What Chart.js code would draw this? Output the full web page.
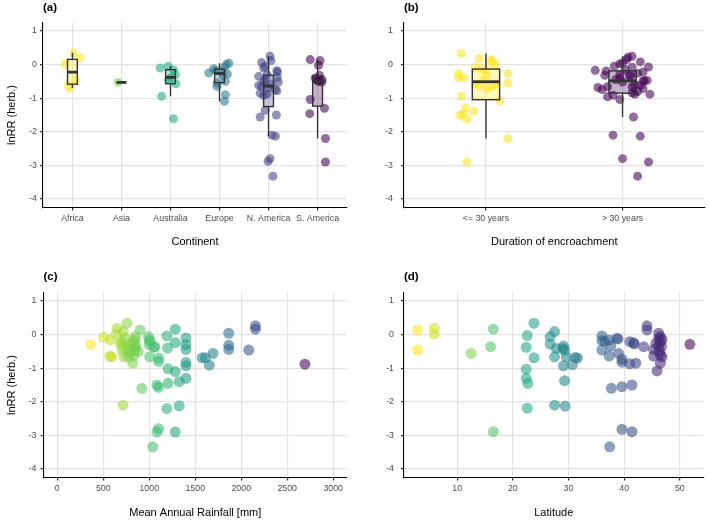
<!DOCTYPE html>
<html>
<head>
<meta charset="utf-8">
<script src="https://cdn.jsdelivr.net/npm/chart.js@4.4.0/dist/chart.umd.min.js"></script>
<style>
  body { margin: 0; background: #fff; }
  #wrap { position: relative; width: 709px; height: 521px; overflow: hidden; }
  canvas { position: absolute; }
</style>
</head>
<body>
<div id="wrap">
  <canvas id="panelA" width="354" height="260" style="left:0;top:0"></canvas>
  <canvas id="panelB" width="355" height="260" style="left:354px;top:0"></canvas>
  <canvas id="panelC" width="354" height="261" style="left:0;top:260px"></canvas>
  <canvas id="panelD" width="355" height="261" style="left:354px;top:260px"></canvas>
</div>
<script>
// ---- data ----
const continents = ['Africa', 'Asia', 'Australia', 'Europe', 'N. America', 'S. America'];
const africaLnRR = [0.35, 0.2, 0.02, -0.47, -0.62, -0.7];
const africaJitter = [0.02, 0.16, -0.15, 0.07, -0.08, -0.05];
const asiaLnRR = [-0.53];
const asiaJitter = [-0.07];
const australiaLnRR = [-0.05, -0.1, -0.15, -0.3, -0.38, -0.45, -0.57, -0.94, -1.61];
const australiaJitter = [-0.05, -0.21, 0.06, 0.1, 0.01, -0.04, 0.11, -0.18, 0.06];
const europeLnRR = [0.04, 0.0, -0.08, -0.12, -0.17, -0.22, -0.25, -0.28, -0.33, -0.5, -0.55, -0.65, -0.9, -1.09];
const europeJitter = [0.19, 0.14, 0.1, -0.12, -0.08, 0.05, -0.22, 0.16, 0.07, 0.12, -0.05, -0.05, 0.12, 0.1];
const nAmericaLnRR = [0.25, 0.12, 0.06, -0.05, -0.1, -0.18, -0.22, -0.3, -0.35, -0.38, -0.45, -0.5, -0.52, -0.58, -0.62,
  -0.66, -0.7, -0.74, -0.78, -0.85, -0.88, -0.92, -1.36, -1.5, -1.56, -2.1, -2.13, -2.8, -2.88, -3.32];
const nAmericaJitter = [0.03, 0.05, -0.14, -0.07, -0.1, 0.17, 0.18, -0.03, -0.2, 0.18, -0.07, -0.1, 0.2, 0.05, -0.2,
  -0.14, 0, 0.14, 0.17, -0.17, -0.03, -0.1, -0.07, 0.16, -0.17, 0.07, 0.14, 0.03, -0.01, 0.09];
const sAmericaLnRR = [0.15, 0.12, -0.02, -0.32, -0.4, -0.45, -0.47, -0.5, -0.52, -1.04, -1.3, -1.46, -2.2, -2.9];
const sAmericaJitter = [-0.15, 0.05, 0.02, 0.04, -0.05, 0.09, -0.01, 0.02, 0.09, -0.15, 0.14, -0.16, 0.16, 0.16];

const durations = ['<= 30 years', '> 30 years'];
const shortLnRR = [0.33, 0.18, 0.15, 0.1, 0.05, -0.02, -0.07, -0.12, -0.17, -0.27, -0.27, -0.32, -0.39, -0.39, -0.47,
  -0.55, -0.57, -0.57, -0.62, -0.64, -0.71, -0.94, -1.08, -1.29, -1.39, -1.46, -1.51, -1.61, -2.2, -2.9];
const shortJitter = [-0.18, -0.05, 0.04, 0.05, 0.04, 0.07, -0.08, -0.04, 0.0, -0.2, 0.16, 0.0, -0.2, -0.16, -0.02,
  0.16, -0.08, 0.08, -0.05, 0.05, 0.01, -0.18, 0.1, -0.15, -0.09, -0.17, -0.19, -0.14, 0.16, -0.14];
const longLnRR = [0.25, 0.22, 0.15, 0.08, 0.05, 0.02, -0.05, -0.07, -0.08, -0.15, -0.17, -0.19, -0.22, -0.26, -0.29,
  -0.32, -0.32, -0.35, -0.4, -0.45, -0.47, -0.48, -0.49, -0.52, -0.6, -0.62, -0.66, -0.66, -0.68, -0.71,
  -0.74, -0.8, -0.84, -0.88, -0.88, -0.91, -0.96, -1.04, -1.56, -2.1, -2.13, -2.8, -2.9, -3.32];
const longJitter = [0.07, 0.04, 0.03, 0.13, 0, -0.02, -0.06, 0.19, 0.07, 0.02, -0.2, -0.12, 0.15, 0.11, -0.02,
  -0.13, 0.05, 0.06, -0.02, -0.05, 0.18, 0.16, 0.15, 0, 0.09, 0.13, -0.11, 0.07, -0.18, 0.15,
  -0.15, 0.11, 0.07, 0.09, 0.2, -0.07, -0.11, -0.02, 0.08, -0.07, 0.13, 0.0, 0.19, 0.11];

const rainfallMM = [363, 501, 574, 570, 590, 650, 758, 715, 683, 701, 727, 774, 810, 847, 847, 847, 821, 901, 919, 715,
  992, 999, 1010, 1003, 1047, 1101, 1101, 1083, 1101, 1192, 1199, 1203, 1203, 1192, 1101, 1083, 1039, 1283, 1283, 1283,
  1326, 1326, 1283, 1399, 1399, 1399, 1399, 1399, 1399, 1574, 1610, 1653, 1693, 1864, 1864, 1864, 2082, 2155, 2155, 2693,
  700, 720, 760, 790, 820, 850, 780, 880, 640, 740, 830, 1000, 1062, 845];
const rainfallLnRR = [-0.3, -0.08, -0.16, -0.64, -0.66, 0.19, 0.34, 0.09, -0.26, -0.46, -0.66, -0.66, -0.5, -0.3, -0.16, -0.06, -0.85, 0.14, -1.6, -2.1,
  -0.06, -0.16, -0.2, -0.66, -0.38, -0.7, -0.8, -1.5, -1.57, -0.04, -0.4, -1.02, -1.45, -2.2, -2.8, -2.9, -3.34, 0.16, -0.24, -1.1,
  -1.4, -2.12, -2.9, -0.1, -0.3, -0.44, -0.83, -0.93, -1.3, -0.69, -0.69, -0.91, -0.56, 0.04, -0.32, -0.44, -0.46, 0.26, 0.16, -0.88,
  -0.2, -0.35, -0.42, -0.3, -0.2, -0.45, -0.55, -0.5, 0.02, -0.1, -0.62, -0.3, -0.36, -0.36];

const latitudeDeg = [2.9, 2.9, 5.9, 5.9, 12.5, 16.5, 16.0, 16.5, 23.8, 22.6, 22.4, 23.8, 22.4, 22.4, 22.7, 22.6,
  26.7, 27.5, 26.7, 27.8, 27.5, 29.1, 29.3, 29.6, 29.1, 30.7, 31.2, 31.6, 29.3, 27.5, 29.4,
  36, 36, 36, 37.3, 37.6, 37.3, 38.7, 39.0, 39.6, 39.6, 37.7, 39.6, 41.4, 39.6, 41.4, 37.4,
  41, 41.7, 41, 42.1, 43.5, 44.1, 44.1, 45.3, 45.3, 45.7, 46.2, 46.2, 46.5, 46.5, 46.2, 46.7, 46.5, 46.8, 46.5, 45.9, 51.8,
  38.9, 46.8, 46.3, 36.5, 41.8, 29.0];
const latitudeLnRR = [0.14, -0.46, 0.19, 0.02, -0.56, 0.16, -0.36, -2.89, 0.34, -0.03, -0.38, -0.69, -1.03, -1.3, -1.45, -2.19,
  -0.06, 0.09, -0.28, -0.41, -0.66, -0.34, -0.46, -0.66, -0.93, -0.9, -0.68, -0.7, -1.37, -2.1, -2.13,
  -0.04, -0.18, -0.46, -0.16, -0.34, -0.64, -0.11, -0.56, -0.73, -0.82, -1.6, -1.55, -1.5, -2.82, -2.89, -3.34,
  -0.21, -0.24, -0.87, -0.85, -0.36, 0.26, 0.14, -0.44, -0.64, -0.26, 0.04, -0.11, -0.06, -0.21, -0.34, -0.36, -0.6, -0.66, -0.85, -1.08, -0.29,
  -0.13, -0.15, -0.5, -0.2, -0.28, -0.42];

const lnrrTicks = [-4, -3, -2, -1, 0, 1];
const rainfallTicks = [0, 500, 1000, 1500, 2000, 2500, 3000];
const latitudeTicks = [10, 20, 30, 40, 50];

// ---- styling ----
const FONT = '"Liberation Sans", Arial, Helvetica, sans-serif';
const GRID = '#E3E3E3';
const VIRIDIS = ['#440154', '#482576', '#414487', '#35608D', '#2A788E', '#21908C', '#22A884', '#43BF71', '#7AD151', '#BBDF27', '#FDE725'];
const continentColors = ['#FDE725', '#7AD151', '#22A884', '#2A788E', '#414487', '#440154'];
const durationColors = ['#FDE725', '#440154'];
const BOX_WIDTH = 0.2;
const POINT_ALPHA = 0.58;

function rgba(hex, a) {
  const n = parseInt(hex.slice(1), 16);
  return `rgba(${n >> 16},${(n >> 8) & 255},${n & 255},${a})`;
}
function viridis(t) {
  t = Math.min(1, Math.max(0, t)) * (VIRIDIS.length - 1);
  const i = Math.min(Math.floor(t), VIRIDIS.length - 2);
  const f = t - i;
  const a = parseInt(VIRIDIS[i].slice(1), 16), b = parseInt(VIRIDIS[i + 1].slice(1), 16);
  const mix = s => Math.round(((a >> s) & 255) * (1 - f) + ((b >> s) & 255) * f);
  return `rgba(${mix(16)},${mix(8)},${mix(0)},${POINT_ALPHA})`;
}

function quantile(sorted, p) {
  const h = (sorted.length - 1) * p;
  const lo = Math.floor(h);
  const hi = Math.min(lo + 1, sorted.length - 1);
  return sorted[lo] + (h - lo) * (sorted[hi] - sorted[lo]);
}
function boxStats(values) {
  const s = [...values].sort((a, b) => a - b);
  const q1 = quantile(s, 0.25), med = quantile(s, 0.5), q3 = quantile(s, 0.75);
  const iqr = q3 - q1;
  const lo = s.find(v => v >= q1 - 1.5 * iqr);
  const hi = [...s].reverse().find(v => v <= q3 + 1.5 * iqr);
  return { q1, med, q3, lo, hi };
}

// boxplots drawn over the jittered points
const boxPlugin = {
  id: 'boxes',
  afterDatasetsDraw(chart, args, opts) {
    if (!opts.groups) return;
    const { ctx, scales: { x, y } } = chart;
    ctx.save();
    opts.groups.forEach((g, i) => {
      const st = boxStats(g.values);
      const cx = x.getPixelForValue(i + 1);
      const half = x.getPixelForValue(i + 1 + BOX_WIDTH / 2) - cx;
      const yq1 = y.getPixelForValue(st.q1), yq3 = y.getPixelForValue(st.q3);
      ctx.strokeStyle = '#333';
      ctx.lineWidth = 1.4;
      ctx.beginPath();
      ctx.moveTo(cx, y.getPixelForValue(st.hi)); ctx.lineTo(cx, yq3);
      ctx.moveTo(cx, yq1); ctx.lineTo(cx, y.getPixelForValue(st.lo));
      ctx.stroke();
      ctx.fillStyle = rgba(g.color, 0.3);
      ctx.fillRect(cx - half, yq3, 2 * half, yq1 - yq3);
      ctx.strokeRect(cx - half, yq3, 2 * half, yq1 - yq3);
      ctx.lineWidth = 2.8;
      ctx.beginPath();
      const ym = y.getPixelForValue(st.med);
      ctx.moveTo(cx - half, ym); ctx.lineTo(cx + half, ym);
      ctx.stroke();
    });
    ctx.restore();
  }
};

const tagPlugin = {
  id: 'panelTag',
  afterDraw(chart, args, opts) {
    const ctx = chart.ctx;
    ctx.save();
    ctx.font = 'bold 11.5px ' + FONT;
    ctx.fillStyle = '#000';
    ctx.textBaseline = 'middle';
    ctx.fillText(opts.text, chart.chartArea.left, opts.y);
    ctx.restore();
  }
};

function makeOptions(p) {
  return {
    responsive: false,
    animation: false,
    events: [],
    layout: { padding: { top: p.top, right: p.right, left: 0, bottom: 0 } },
    plugins: {
      legend: { display: false },
      tooltip: { enabled: false },
      panelTag: { text: p.tag, y: p.tagY },
      boxes: { groups: p.groups }
    },
    scales: {
      x: {
        type: 'linear',
        min: p.xMin,
        max: p.xMax,
        afterBuildTicks: s => { s.ticks = p.xTicks.map(v => ({ value: v })); },
        afterFit: s => { s.height = p.xHeight; },
        grid: { color: GRID, lineWidth: 1.2, tickColor: '#333', tickLength: 3 },
        border: { display: true, color: '#000', width: 1.1 },
        ticks: {
          color: '#4D4D4D',
          font: { family: FONT, size: 8.8 },
          padding: 3,
          maxRotation: 0,
          autoSkip: false,
          callback: p.xLabel
        },
        title: {
          display: true,
          text: p.xTitle,
          color: '#000',
          font: { family: FONT, size: 11 },
          padding: { top: 0, bottom: p.xTitlePad }
        }
      },
      y: {
        type: 'linear',
        min: -4.25,
        max: 1.25,
        afterBuildTicks: s => { s.ticks = lnrrTicks.map(v => ({ value: v })); },
        afterFit: s => { s.width = p.yWidth; },
        grid: { color: GRID, lineWidth: 1.2, tickColor: '#333', tickLength: 3 },
        border: { display: true, color: '#000', width: 1.1 },
        ticks: {
          color: '#4D4D4D',
          font: { family: FONT, size: 8.8 },
          padding: p.yPad,
          callback: v => String(v)
        },
        title: {
          display: !!p.yTitle,
          text: p.yTitle,
          color: '#000',
          font: { family: FONT, size: 11 },
          padding: { top: 5.4, bottom: 0 }
        }
      }
    }
  };
}

function jitterSet(values, jitter, pos, color) {
  return {
    data: values.map((v, j) => ({ x: pos + jitter[j], y: v })),
    backgroundColor: rgba(color, POINT_ALPHA),
    borderWidth: 0,
    pointRadius: 4.5
  };
}

// (a) continent
const continentValues = [africaLnRR, asiaLnRR, australiaLnRR, europeLnRR, nAmericaLnRR, sAmericaLnRR];
const continentJitter = [africaJitter, asiaJitter, australiaJitter, europeJitter, nAmericaJitter, sAmericaJitter];
new Chart(document.getElementById('panelA'), {
  type: 'scatter',
  data: { datasets: continentValues.map((vals, i) => jitterSet(vals, continentJitter[i], i + 1, continentColors[i])) },
  options: makeOptions({
    tag: '(a)', tagY: 8, top: 22.6, right: 7, xHeight: 52.6, yWidth: 43, yPad: 3,
    xMin: 0.4, xMax: 6.6, xTicks: continents.map((c, i) => i + 1), xLabel: v => continents[v - 1],
    xTitle: 'Continent', xTitlePad: 11.4, yTitle: 'lnRR (herb.)',
    groups: continentValues.map((vals, i) => ({ values: vals, color: continentColors[i] }))
  }),
  plugins: [tagPlugin, boxPlugin]
});

// (b) duration of encroachment
const durationValues = [shortLnRR, longLnRR];
const durationJitter = [shortJitter, longJitter];
new Chart(document.getElementById('panelB'), {
  type: 'scatter',
  data: { datasets: durationValues.map((vals, i) => jitterSet(vals, durationJitter[i], i + 1, durationColors[i])) },
  options: makeOptions({
    tag: '(b)', tagY: 8, top: 22.6, right: 3, xHeight: 52.6, yWidth: 50, yPad: 8,
    xMin: 0.4, xMax: 2.6, xTicks: [1, 2], xLabel: v => durations[v - 1],
    xTitle: 'Duration of encroachment', xTitlePad: 11.4, yTitle: '',
    groups: durationValues.map((vals, i) => ({ values: vals, color: durationColors[i] }))
  }),
  plugins: [tagPlugin, boxPlugin]
});

// (c) rainfall
const rMin = Math.min(...rainfallMM), rMax = Math.max(...rainfallMM);
new Chart(document.getElementById('panelC'), {
  type: 'scatter',
  data: {
    datasets: [{
      data: rainfallMM.map((r, i) => ({ x: r, y: rainfallLnRR[i] })),
      backgroundColor: rainfallMM.map(r => viridis(1 - (r - rMin) / (rMax - rMin))),
      borderWidth: 0,
      pointRadius: 5.5
    }]
  },
  options: makeOptions({
    tag: '(c)', tagY: 16.7, top: 32.6, right: 7, xHeight: 43.6, yWidth: 43.5, yPad: 4,
    xMin: -150, xMax: 3150, xTicks: rainfallTicks, xLabel: v => String(v),
    xTitle: 'Mean Annual Rainfall [mm]', xTitlePad: 1.1, yTitle: 'lnRR (herb.)'
  }),
  plugins: [tagPlugin, boxPlugin]
});

// (d) latitude
const lMin = Math.min(...latitudeDeg), lMax = Math.max(...latitudeDeg);
new Chart(document.getElementById('panelD'), {
  type: 'scatter',
  data: {
    datasets: [{
      data: latitudeDeg.map((l, i) => ({ x: l, y: latitudeLnRR[i] })),
      backgroundColor: latitudeDeg.map(l => viridis(1 - (l - lMin) / (lMax - lMin))),
      borderWidth: 0,
      pointRadius: 5.5
    }]
  },
  options: makeOptions({
    tag: '(d)', tagY: 16.7, top: 32.6, right: 3, xHeight: 43.6, yWidth: 50, yPad: 7,
    xMin: 0.45, xMax: 54.25, xTicks: latitudeTicks, xLabel: v => String(v),
    xTitle: 'Latitude', xTitlePad: 1.1, yTitle: ''
  }),
  plugins: [tagPlugin, boxPlugin]
});
</script>
</body>
</html>
